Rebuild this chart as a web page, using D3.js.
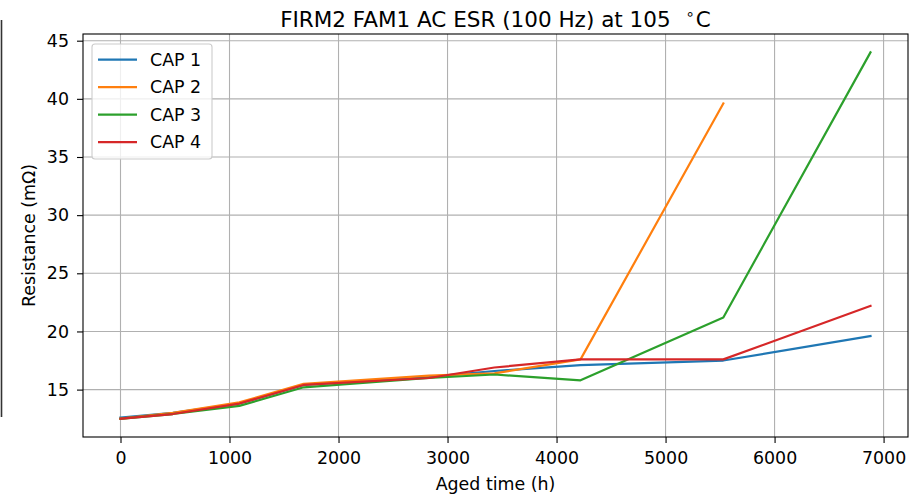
<!DOCTYPE html>
<html>
<head>
<meta charset="utf-8">
<script src="https://cdn.jsdelivr.net/npm/d3@7"></script>
<style>
  html, body { margin: 0; padding: 0; background: #fff; }
  svg { display: block; font-family: "DejaVu Sans", sans-serif; }
</style>
</head>
<body>
<svg id="chart" width="915" height="496"></svg>
<script>
// Aged time (hours) at each measurement
const agedHours = [0, 480, 1090, 1680, 2830, 3430, 4220, 5530, 6880];

// AC ESR at 100 Hz, milliohms, per capacitor
const cap1 = [12.6, 13.0, 13.8, 15.4, 16.1, 16.6, 17.1, 17.5, 19.6];
const cap2 = [12.5, 13.0, 13.9, 15.5, 16.2, 16.4, 17.6, 39.6];
const cap3 = [12.5, 12.9, 13.6, 15.2, 16.0, 16.3, 15.8, 21.2, 44.0];
const cap4 = [12.5, 12.9, 13.8, 15.4, 16.0, 16.9, 17.6, 17.6, 22.2];

const seriesNames = ["CAP 1", "CAP 2", "CAP 3", "CAP 4"];
const seriesColors = ["#1f77b4", "#ff7f0e", "#2ca02c", "#d62728"];
const xTicks = [0, 1000, 2000, 3000, 4000, 5000, 6000, 7000];
const yTicks = [15, 20, 25, 30, 35, 40, 45];

const series = [cap1, cap2, cap3, cap4].map((vals, i) => ({
  name: seriesNames[i],
  color: seriesColors[i],
  points: vals.map((v, j) => ({ x: agedHours[j], y: v }))
}));

const svg = d3.select("#chart");
const plot = { left: 83, right: 908, top: 34, bottom: 437 };
const fontSize = 17.4;

// Axis limits with 5% padding around the data
const xMin = 0, xMax = d3.max(agedHours);
const allY = [cap1, cap2, cap3, cap4].flat();
const yMin = d3.min(allY), yMax = d3.max(allY);
const xPad = (xMax - xMin) * 0.05, yPad = (yMax - yMin) * 0.05;

const x = d3.scaleLinear().domain([xMin - xPad, xMax + xPad]).range([plot.left, plot.right]);
const y = d3.scaleLinear().domain([yMin - yPad, yMax + yPad]).range([plot.bottom, plot.top]);

// Edge of a neighbouring panel on the far left
svg.append("line")
  .attr("x1", 1.5).attr("x2", 1.5).attr("y1", 20).attr("y2", 417)
  .attr("stroke", "#333").attr("stroke-width", 1.6);

// Grid
const grid = svg.append("g").attr("stroke", "#b0b0b0").attr("stroke-width", 1.1);
grid.selectAll(".gx").data(xTicks).join("line")
  .attr("x1", d => x(d)).attr("x2", d => x(d))
  .attr("y1", plot.top).attr("y2", plot.bottom);
grid.selectAll(".gy").data(yTicks).join("line")
  .attr("x1", plot.left).attr("x2", plot.right)
  .attr("y1", d => y(d)).attr("y2", d => y(d));

// Lines
const line = d3.line().x(d => x(d.x)).y(d => y(d.y));
svg.append("clipPath").attr("id", "plotclip")
  .append("rect").attr("x", plot.left).attr("y", plot.top)
  .attr("width", plot.right - plot.left).attr("height", plot.bottom - plot.top);
svg.append("g").attr("clip-path", "url(#plotclip)")
  .selectAll("path").data(series).join("path")
  .attr("d", d => line(d.points))
  .attr("fill", "none")
  .attr("stroke", d => d.color)
  .attr("stroke-width", 2.2)
  .attr("stroke-linejoin", "round")
  .attr("stroke-linecap", "square");

// Axes
const xAxis = d3.axisBottom(x).tickValues(xTicks).tickSize(6).tickPadding(9).tickFormat(d3.format("d"));
const yAxis = d3.axisLeft(y).tickValues(yTicks).tickSize(6).tickPadding(8).tickFormat(d3.format("d"));

const gx = svg.append("g").attr("transform", `translate(0,${plot.bottom})`).call(xAxis);
const gy = svg.append("g").attr("transform", `translate(${plot.left},0)`).call(yAxis);
[gx, gy].forEach(g => {
  g.attr("font-family", null).attr("font-size", null);
  g.select(".domain").remove();
  g.selectAll(".tick line").attr("stroke", "#000").attr("stroke-width", 1.1);
  g.selectAll(".tick text").attr("fill", "#000").style("font-size", fontSize + "px");
});

// Frame
svg.append("rect")
  .attr("x", plot.left).attr("y", plot.top)
  .attr("width", plot.right - plot.left).attr("height", plot.bottom - plot.top)
  .attr("fill", "none").attr("stroke", "#000").attr("stroke-width", 1.1);

// Title and axis labels
const title = svg.append("text")
  .attr("x", (plot.left + plot.right) / 2).attr("y", 27)
  .attr("text-anchor", "middle").style("font-size", "21.5px");
title.append("tspan").text("FIRM2 FAM1 AC ESR (100 Hz) at 105 ");
title.append("tspan").attr("dx", 8).attr("dy", -8).style("font-size", "15px").text("\u2218");
title.append("tspan").attr("dx", 1).attr("dy", 8).text("C");

svg.append("text")
  .attr("x", (plot.left + plot.right) / 2).attr("y", 490)
  .attr("text-anchor", "middle").style("font-size", fontSize + "px")
  .text("Aged time (h)");

svg.append("text")
  .attr("transform", `translate(35,${(plot.top + plot.bottom) / 2}) rotate(-90)`)
  .attr("text-anchor", "middle").style("font-size", fontSize + "px")
  .text("Resistance (m\u03A9)");

// Legend
const legend = svg.append("g");
legend.append("rect")
  .attr("x", 92).attr("y", 44).attr("width", 120).attr("height", 115)
  .attr("rx", 3).attr("fill", "#fff").attr("fill-opacity", 0.8)
  .attr("stroke", "#cccccc").attr("stroke-width", 1.1);
const items = legend.selectAll(".item").data(series).join("g")
  .attr("transform", (d, i) => `translate(0,${59.7 + i * 27.5})`);
items.append("line")
  .attr("x1", 98).attr("x2", 137).attr("y1", 0).attr("y2", 0)
  .attr("stroke", d => d.color).attr("stroke-width", 2.2);
items.append("text")
  .attr("x", 150).attr("y", 0).attr("dy", "0.35em")
  .style("font-size", fontSize + "px")
  .text(d => d.name);
</script>
</body>
</html>
